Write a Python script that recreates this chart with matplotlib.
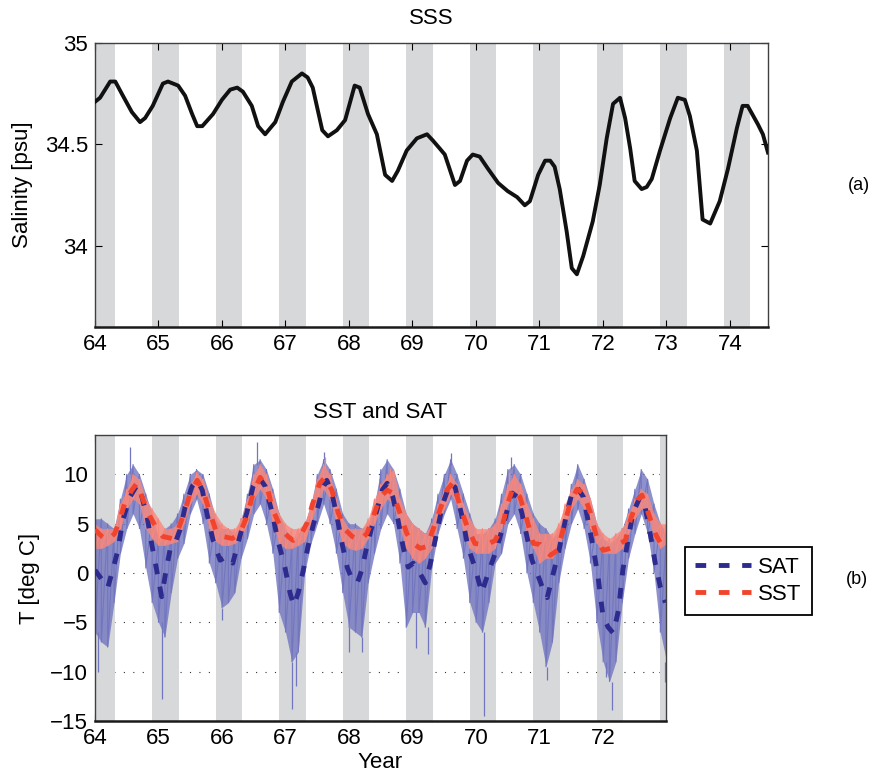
import numpy as np
import matplotlib
matplotlib.use('Agg')
import matplotlib.pyplot as plt

plt.rcParams['font.family'] = ['Liberation Sans', 'DejaVu Sans']

# --- panel (a): sea surface salinity ---
sss_t = [64.00, 64.08, 64.24, 64.32, 64.44, 64.58, 64.71, 64.79, 64.91, 65.07,
         65.15, 65.31, 65.42, 65.53, 65.61, 65.69, 65.86, 66.00, 66.13, 66.24,
         66.33, 66.47, 66.57, 66.68, 66.84, 66.96, 67.10, 67.26, 67.35, 67.43,
         67.58, 67.67, 67.81, 67.94, 68.02, 68.09, 68.17, 68.30, 68.44, 68.57,
         68.68, 68.77, 68.91, 69.07, 69.23, 69.32, 69.43, 69.51, 69.67, 69.75,
         69.86, 69.95, 70.06, 70.19, 70.35, 70.50, 70.65, 70.77, 70.85, 70.98,
         71.09, 71.17, 71.24, 71.32, 71.43, 71.51, 71.59, 71.69, 71.84, 71.95,
         72.06, 72.16, 72.27, 72.35, 72.43, 72.50, 72.61, 72.69, 72.77, 72.90,
         73.06, 73.18, 73.29, 73.37, 73.48, 73.57, 73.69, 73.84, 73.97, 74.11,
         74.20, 74.28, 74.44, 74.52, 74.60]
sss = [34.71, 34.73, 34.81, 34.81, 34.74, 34.66, 34.61, 34.63, 34.69, 34.80,
       34.81, 34.79, 34.74, 34.65, 34.59, 34.59, 34.65, 34.72, 34.77, 34.78,
       34.76, 34.69, 34.59, 34.55, 34.61, 34.71, 34.81, 34.85, 34.83, 34.78,
       34.57, 34.54, 34.57, 34.62, 34.71, 34.79, 34.78, 34.65, 34.55, 34.35,
       34.32, 34.37, 34.47, 34.53, 34.55, 34.52, 34.48, 34.45, 34.30, 34.32,
       34.42, 34.45, 34.44, 34.38, 34.31, 34.27, 34.24, 34.20, 34.22, 34.35,
       34.42, 34.42, 34.39, 34.28, 34.07, 33.89, 33.86, 33.95, 34.12, 34.30,
       34.53, 34.70, 34.73, 34.63, 34.48, 34.32, 34.28, 34.29, 34.33, 34.47,
       34.63, 34.73, 34.72, 34.64, 34.47, 34.13, 34.11, 34.22, 34.38, 34.58,
       34.69, 34.69, 34.60, 34.55, 34.46]

# winter (Dec-Apr) shading
band_start = [63.9, 64.9, 65.9, 66.9, 67.9, 68.9, 69.9, 70.9, 71.9, 72.9, 73.9]
band_end = [64.32, 65.32, 66.32, 67.32, 68.32, 69.32, 70.32, 71.32, 72.32, 73.32, 74.32]

# --- panel (b): smoothed SAT / SST ---
sat_sm_t = [64.00, 64.08, 64.20, 64.28, 64.36, 64.44, 64.55, 64.66, 64.74, 64.82,
            64.90, 64.98, 65.05, 65.12, 65.18, 65.26, 65.34, 65.42, 65.53, 65.61,
            65.69, 65.76, 65.86, 65.97, 66.08, 66.17, 66.28, 66.39, 66.49, 66.57,
            66.68, 66.79, 66.88, 66.99, 67.07, 67.13, 67.20, 67.28, 67.35, 67.43,
            67.51, 67.59, 67.65, 67.73, 67.81, 67.89, 67.97, 68.05, 68.13, 68.20,
            68.28, 68.36, 68.44, 68.52, 68.60, 68.69, 68.77, 68.85, 68.93, 69.01,
            69.09, 69.20, 69.28, 69.39, 69.48, 69.59, 69.67, 69.78, 69.87, 69.98,
            70.09, 70.19, 70.30, 70.41, 70.49, 70.57, 70.65, 70.72, 70.80, 70.88,
            70.96, 71.04, 71.12, 71.20, 71.28, 71.35, 71.43, 71.51, 71.59, 71.69,
            71.76, 71.84, 71.92, 72.00, 72.08, 72.16, 72.24, 72.31, 72.39, 72.47,
            72.58, 72.66, 72.74, 72.82, 72.90, 72.98]
sat_sm = [0.3, -0.4, -1.5, 0.3, 2.3, 5.4, 7.7, 8.9, 7.7, 5.7,
          2.7, 0.0, -2.4, 0.3, 2.3, 3.0, 4.4, 6.7, 8.8, 9.4,
          8.4, 6.1, 3.3, 1.3, 1.7, 1.0, 3.7, 6.1, 8.8, 9.8,
          8.8, 6.1, 3.3, 0.6, -2.0, -3.3, -2.0, 0.3, 2.6, 4.7,
          6.7, 8.7, 9.4, 8.1, 5.7, 3.0, 0.6, -0.7, -1.0, 0.3,
          2.7, 4.7, 6.4, 8.4, 9.1, 7.7, 5.4, 2.7, 0.6, 1.0,
          0.3, -1.0, 1.0, 4.4, 7.1, 9.1, 8.7, 5.7, 2.7, 0.6,
          -2.0, 0.0, 2.0, 4.4, 6.4, 8.1, 7.7, 6.1, 3.7, 1.3,
          0.0, -1.4, -2.5, -0.4, 1.6, 3.7, 6.1, 8.1, 8.7, 7.7,
          5.4, 2.7, -0.4, -4.5, -5.5, -6.1, -3.8, 0.3, 3.3, 6.1,
          7.7, 6.7, 4.0, 1.0, -1.4, -3.0]

sst_sm_t = [64.00, 64.11, 64.20, 64.31, 64.39, 64.47, 64.58, 64.66, 64.76, 64.87,
            64.98, 65.07, 65.21, 65.31, 65.42, 65.50, 65.61, 65.70, 65.81, 65.92,
            66.02, 66.16, 66.28, 66.39, 66.49, 66.60, 66.71, 66.80, 66.94, 67.04,
            67.12, 67.23, 67.34, 67.43, 67.54, 67.62, 67.73, 67.83, 67.94, 68.05,
            68.17, 68.28, 68.38, 68.49, 68.60, 68.69, 68.80, 68.91, 69.01, 69.12,
            69.23, 69.32, 69.43, 69.54, 69.64, 69.75, 69.86, 69.98, 70.08, 70.17,
            70.30, 70.41, 70.50, 70.58, 70.69, 70.80, 70.90, 71.01, 71.17, 71.28,
            71.37, 71.48, 71.59, 71.69, 71.80, 71.91, 72.00, 72.11, 72.24, 72.35,
            72.43, 72.54, 72.61, 72.71, 72.82, 72.93, 72.99]
sst_sm = [4.4, 3.7, 3.3, 4.0, 5.4, 7.1, 8.4, 9.1, 7.4, 5.7,
          4.4, 3.7, 3.5, 4.4, 6.4, 8.1, 9.4, 8.4, 6.1, 4.0,
          3.7, 3.5, 4.0, 5.7, 8.1, 9.7, 8.7, 6.4, 4.4, 3.7,
          3.3, 3.7, 5.1, 7.1, 9.1, 9.7, 8.4, 6.1, 4.4, 3.7,
          3.3, 4.0, 5.7, 7.7, 8.4, 8.1, 6.1, 4.0, 3.0, 2.5,
          2.7, 4.4, 6.4, 8.4, 9.2, 6.7, 4.7, 3.0, 2.9, 2.9,
          3.3, 4.7, 7.1, 8.6, 7.7, 5.4, 3.0, 2.9, 1.8, 2.3,
          4.4, 7.1, 8.5, 8.1, 6.1, 3.3, 2.3, 2.5, 2.9, 3.3,
          5.4, 7.4, 7.9, 6.1, 4.0, 2.7, 2.5]

# --- panel (b): daily spread, read every 0.1 yr (upper / lower edge) ---
raw_t = np.round(np.arange(64.0, 73.05, 0.1), 1)
sat_hi = [5.5, 5.5, 5.0, 4.5, 7.5, 10.0, 11.0, 10.0, 8.0, 6.0,
          3.5, 4.5, 5.0, 6.0, 8.0, 10.0, 10.5, 10.0, 8.0, 5.5,
          4.5, 4.5, 4.0, 5.5, 8.0, 11.0, 11.5, 10.5, 8.5, 6.0,
          4.5, 3.0, 4.0, 5.0, 7.0, 10.0, 11.5, 10.5, 8.5, 6.0,
          5.0, 5.0, 4.5, 5.0, 7.0, 10.5, 11.5, 10.5, 8.5, 6.0,
          5.0, 4.5, 4.0, 5.5, 8.0, 10.0, 11.5, 10.0, 8.0, 6.0,
          4.0, 4.0, 4.5, 5.5, 8.0, 10.5, 11.0, 10.0, 8.0, 6.0,
          5.0, 4.5, 3.5, 4.5, 6.0, 9.0, 11.0, 9.5, 7.5, 5.0,
          3.5, 3.0, 3.5, 4.5, 6.5, 8.5, 10.5, 9.5, 7.0, 5.0,
          4.0]
sat_lo = [-6.0, -7.0, -7.5, -3.0, 2.0, 4.5, 6.0, 4.5, 0.5, -3.0,
          -5.0, -6.5, -2.0, 1.5, 3.0, 6.0, 7.5, 5.0, 1.0, -1.0,
          -3.5, -3.0, -2.0, 1.5, 3.5, 6.0, 7.0, 5.0, 2.0, -4.0,
          -6.0, -9.0, -8.0, 0.0, 3.0, 5.0, 7.0, 5.0, 2.0, -2.0,
          -5.5, -6.0, -6.5, -1.0, 2.0, 4.5, 6.0, 5.0, 1.0, -5.5,
          -4.0, -4.0, -5.5, 0.5, 4.0, 6.0, 7.5, 4.5, 1.5, -3.0,
          -5.0, -6.0, -3.0, 1.0, 2.0, 5.0, 6.0, 4.0, 0.0, -3.0,
          -6.0, -9.5, -7.0, -1.0, 2.5, 5.0, 6.5, 4.5, 1.0, -5.0,
          -9.0, -11.0, -9.0, -3.0, 1.5, 4.0, 6.0, 4.0, 0.0, -6.0,
          -9.0]
sst_hi = [5.0, 4.5, 4.5, 4.5, 7.0, 8.5, 10.0, 9.5, 7.5, 6.5,
          5.5, 4.5, 4.5, 5.0, 7.0, 9.0, 10.2, 9.5, 7.5, 6.0,
          5.0, 4.5, 4.5, 5.5, 7.5, 10.0, 11.0, 10.0, 8.0, 6.0,
          5.0, 4.5, 4.5, 5.0, 7.0, 9.5, 11.0, 10.0, 7.5, 5.5,
          4.5, 4.5, 4.5, 5.5, 7.5, 9.0, 10.0, 10.5, 7.5, 6.0,
          5.0, 4.5, 4.0, 5.0, 7.0, 8.5, 10.0, 9.0, 7.0, 5.5,
          4.5, 4.5, 4.5, 5.0, 7.0, 9.0, 10.0, 9.0, 7.0, 5.5,
          4.0, 4.0, 4.0, 5.0, 7.0, 8.5, 9.5, 9.0, 7.5, 5.0,
          4.0, 3.5, 4.0, 4.5, 6.0, 7.5, 8.5, 8.0, 6.0, 5.0,
          5.0]
sst_lo = [2.5, 2.5, 2.8, 3.2, 4.5, 6.5, 7.5, 7.0, 4.5, 3.5,
          2.8, 2.8, 3.0, 3.2, 5.0, 7.0, 8.0, 7.0, 4.5, 3.2,
          2.8, 2.8, 3.0, 3.5, 5.0, 7.5, 8.5, 7.5, 5.0, 3.0,
          2.5, 2.5, 2.8, 3.2, 5.0, 7.0, 8.5, 7.5, 5.0, 3.0,
          2.5, 2.3, 2.5, 3.5, 5.0, 6.5, 7.5, 7.0, 4.5, 2.5,
          1.5, 1.0, 1.5, 2.5, 5.0, 6.5, 8.0, 7.0, 4.0, 2.5,
          2.0, 2.0, 2.0, 2.5, 4.5, 7.0, 8.0, 6.5, 4.0, 2.5,
          1.0, 1.5, 1.5, 2.5, 4.5, 6.5, 7.5, 6.5, 4.5, 3.0,
          2.0, 2.0, 2.0, 2.5, 4.0, 5.5, 6.5, 6.0, 3.5, 2.5,
          3.0]

# single-day extremes (time, from, to)
sat_spike_t = [64.05, 64.55, 65.05, 66.00, 66.55, 67.10, 67.17, 67.60, 68.00, 68.20,
               69.05, 69.24, 69.60, 70.12, 70.55, 71.12, 72.05, 72.14, 72.97]
sat_spike_a = [-6.0, 10.0, -5.0, -3.5, 11.0, -9.0, -8.0, 11.5, -5.5, -6.5,
               -4.0, -5.5, 11.0, -6.0, 10.5, -9.5, -9.0, -11.0, -9.0]
sat_spike_b = [-10.0, 12.8, -12.8, -4.8, 13.3, -13.8, -11.5, 12.3, -8.0, -8.0,
               -7.6, -8.2, 12.2, -14.5, 11.8, -10.8, -10.5, -13.9, -11.0]
sst_spike_t = [64.88, 67.62, 68.65, 70.52]
sst_spike_a = [4.5, 10.5, 9.5, 9.0]
sst_spike_b = [6.2, 11.8, 10.6, 10.2]

band_color = '#d7d8da'
sat_raw_c = '#7276bf'
sst_raw_c = '#f8877c'
sat_c = '#2e2b8e'
sst_c = '#f2442c'

fig = plt.figure(figsize=(8.72, 7.76), dpi=100)
ax1 = fig.add_axes([0.1089, 0.5786, 0.7718, 0.366])
ax2 = fig.add_axes([0.1089, 0.0709, 0.6549, 0.3686])

for ax in (ax1, ax2):
    for s, e in zip(band_start, band_end):
        ax.axvspan(s, e, color=band_color, lw=0, zorder=1)
    ax.tick_params(direction='in', length=5, width=0.8, top=True, right=True,
                   labelsize=16, pad=5)
    for side in ('top', 'right', 'left'):
        ax.spines[side].set_linewidth(1.0)
        ax.spines[side].set_color('0.25')
    ax.spines['bottom'].set_linewidth(1.8)
    ax.spines['bottom'].set_color('0.1')

# (a) salinity
ax1.plot(sss_t, sss, color='#111111', lw=2.8, zorder=3, solid_joinstyle='round')
ax1.set_xlim(64, 74.6)
ax1.set_ylim(33.6, 35)
ax1.set_xticks(range(64, 75))
ax1.set_yticks([34, 34.5, 35])
ax1.set_yticklabels(['34', '34.5', '35'])
ax1.set_title('SSS', fontsize=16, pad=14)
ax1.set_ylabel('Salinity [psu]', fontsize=16)
ax1.yaxis.set_label_coords(-0.092, 0.5)

# (b) temperatures
ax2.set_axisbelow(True)
ax2.yaxis.grid(True, linestyle=(0, (1, 7.5)), color='0.2', lw=0.8)

sat_zig = np.column_stack([sat_hi, sat_lo]).ravel()
sst_zig = np.column_stack([sst_hi, sst_lo]).ravel()
zig_t = np.repeat(raw_t, 2)

ax2.fill_between(raw_t, sat_lo, sat_hi, color=sat_raw_c, lw=0, alpha=0.8, zorder=2)
ax2.plot(zig_t, sat_zig, color=sat_raw_c, lw=0.8, zorder=2)
ax2.vlines(sat_spike_t, sat_spike_a, sat_spike_b, color=sat_raw_c, lw=0.9, zorder=2)

ax2.fill_between(raw_t, sst_lo, sst_hi, color=sst_raw_c, lw=0, alpha=0.8, zorder=2.1)
ax2.plot(zig_t, sst_zig, color=sst_raw_c, lw=0.8, zorder=2.1)
ax2.vlines(sst_spike_t, sst_spike_a, sst_spike_b, color=sst_raw_c, lw=0.9, zorder=2.1)

l_sat, = ax2.plot(sat_sm_t, sat_sm, color=sat_c, lw=3.5, dashes=(2.2, 2.6),
                  zorder=3, label='SAT')
l_sst, = ax2.plot(sst_sm_t, sst_sm, color=sst_c, lw=3.5, dashes=(2.2, 2.6),
                  zorder=3.1, label='SST')

ax2.set_xlim(64, 72.99)
ax2.set_ylim(-15, 14)
ax2.set_xticks(range(64, 73))
ax2.set_yticks([-15, -10, -5, 0, 5, 10])
ax2.set_title('SST and SAT', fontsize=16, pad=12)
ax2.set_xlabel('Year', fontsize=16, labelpad=2)
ax2.set_ylabel('T [deg C]', fontsize=16)
ax2.yaxis.set_label_coords(-0.096, 0.5)

leg = ax2.legend(handles=[l_sat, l_sst], loc='upper left',
                 bbox_to_anchor=(0.7856, 0.2951), bbox_transform=fig.transFigure,
                 borderaxespad=0, fontsize=16, fancybox=False, framealpha=1,
                 edgecolor='black', handlelength=2.5, handletextpad=0.35,
                 labelspacing=0.25, borderpad=0.45)
leg.get_frame().set_linewidth(1.3)

fig.text(848 / 872, 1 - 186 / 776, '(a)', fontsize=13, ha='left', va='center')
fig.text(846 / 872, 1 - 579 / 776, '(b)', fontsize=13, ha='left', va='center')

fig.savefig('out.png', dpi=100)
